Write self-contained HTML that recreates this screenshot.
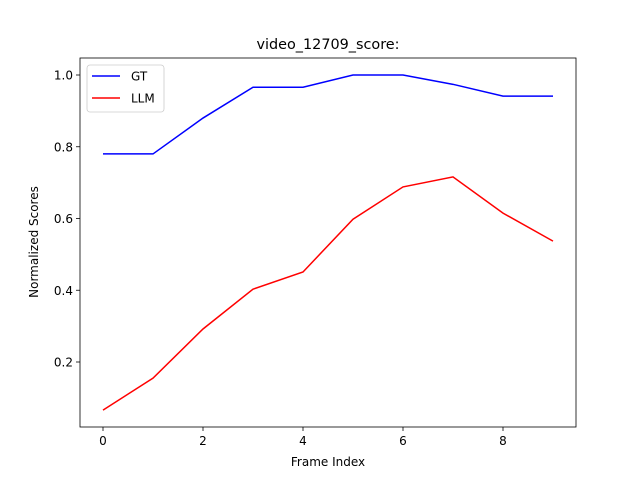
<!DOCTYPE html>
<html><head><meta charset="utf-8"><style>
body{margin:0;background:#fff;}
svg{font-family:"DejaVu Sans","Liberation Sans",sans-serif;}
</style></head><body>
<svg id="chart" width="640" height="480" xmlns="http://www.w3.org/2000/svg"></svg>
<script>
const frames=[0,1,2,3,4,5,6,7,8,9];
const gtValues=[0.780,0.780,0.880,0.966,0.966,1.0,1.0,0.974,0.941,0.941];
const llmValues=[0.066,0.155,0.292,0.403,0.451,0.598,0.688,0.716,0.615,0.537];
const xTicks=[0,2,4,6,8];
const yTicks=[0.2,0.4,0.6,0.8,1.0];
const ns="http://www.w3.org/2000/svg";
const svg=document.getElementById('chart');
const L=80,R=576,T=58,B=427;
const x=v=>103+v*50;
const y=v=>433.75-v*358.75;
function el(t,a,txt){const e=document.createElementNS(ns,t);for(const k in a)e.setAttribute(k,a[k]);if(txt!=null)e.textContent=txt;svg.appendChild(e);return e;}
let t=el('text',{x:328,y:49,'text-anchor':'middle','font-size':14.4},'video_12709_score:');


xTicks.forEach(v=>{
 let l=el('line',{x1:x(v),x2:x(v),y1:B,y2:B+4,stroke:'#000','stroke-width':0.8});
 
 
 let s=el('text',{x:x(v),y:B+18,'text-anchor':'middle','font-size':12},String(v));
 
 
});
yTicks.forEach(v=>{
 let l=el('line',{x1:L-4,x2:L,y1:y(v),y2:y(v),stroke:'#000','stroke-width':0.8});
 
 
 let s=el('text',{x:L-7,y:y(v)+4.5,'text-anchor':'end','font-size':12},v.toFixed(1));
 
 
});
function series(vals,color,name){
 let p=el('polyline',{points:vals.map((v,i)=>x(frames[i])+','+y(v)).join(' '),fill:'none',stroke:color,'stroke-width':1.5});
 
 
}
series(gtValues,'#0000ff','gt-line');
series(llmValues,'#ff0000','llm-line');
let fr=el('rect',{x:L,y:T,width:R-L,height:B-T,fill:'none',stroke:'#000','stroke-width':0.8});


let xl=el('text',{x:328,y:466,'text-anchor':'middle','font-size':12},'Frame Index');


let yl=el('text',{x:0,y:0,'text-anchor':'middle','font-size':12,transform:'translate(38,242) rotate(-90)'},'Normalized Scores');


let lg=el('rect',{x:87,y:65,width:77,height:47,fill:'#fff',stroke:'#ccc','stroke-width':0.8,rx:3});


[['GT','#0000ff',76],['LLM','#ff0000',98]].forEach(([n,c,yy])=>{
 let l=el('line',{x1:92,x2:120,y1:yy,y2:yy,stroke:c,'stroke-width':1.5});
 
 
 let s=el('text',{x:131,y:yy+4.5,'font-size':12},n);
 
 
});
</script>
</body></html>
